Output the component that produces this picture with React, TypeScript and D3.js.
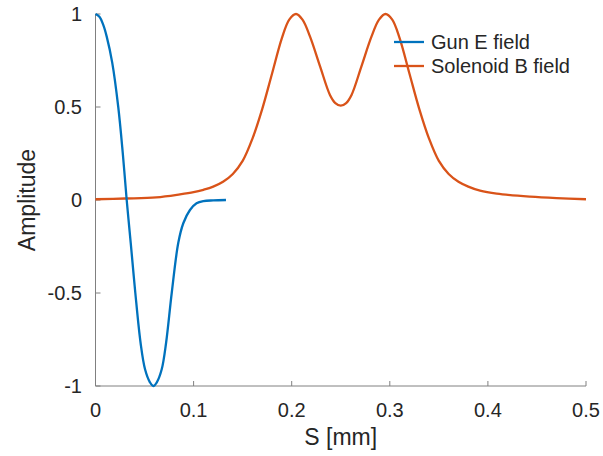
import React from "react";
import * as d3 from "d3";

// Gun E field (S [mm], amplitude)
const gunS = [0, 0.004, 0.008, 0.0115, 0.017, 0.0232, 0.0278, 0.0318, 0.0359, 0.0406, 0.046, 0.0505, 0.0555, 0.0589, 0.0625, 0.0675, 0.0719, 0.0777, 0.0844, 0.0895, 0.0963, 0.103, 0.11, 0.12, 0.133];
const gunE = [1, 0.985, 0.94, 0.877, 0.74, 0.5, 0.252, 0, -0.23, -0.5, -0.77, -0.91, -0.98, -1, -0.98, -0.91, -0.77, -0.5, -0.23, -0.125, -0.054, -0.018, -0.006, -0.002, 0];

// Solenoid B field
const solS = [0, 0.03, 0.062, 0.086, 0.1, 0.11, 0.12, 0.13, 0.14, 0.15, 0.16, 0.17, 0.18, 0.19, 0.1975, 0.2044, 0.211, 0.2187, 0.229, 0.239, 0.2445, 0.25, 0.2555, 0.261, 0.271, 0.2813, 0.289, 0.2956, 0.3025, 0.31, 0.32, 0.33, 0.34, 0.35, 0.36, 0.37, 0.38, 0.392, 0.409, 0.443, 0.47, 0.5];
const solB = [0.004, 0.008, 0.014, 0.03, 0.042, 0.055, 0.072, 0.098, 0.14, 0.21, 0.33, 0.49, 0.68, 0.87, 0.97, 1, 0.97, 0.878, 0.717, 0.565, 0.521, 0.507, 0.521, 0.565, 0.717, 0.878, 0.97, 1, 0.97, 0.87, 0.68, 0.49, 0.33, 0.21, 0.14, 0.098, 0.072, 0.05, 0.034, 0.018, 0.01, 0.004];

const xTicks = [0, 0.1, 0.2, 0.3, 0.4, 0.5];
const yTicks = [-1, -0.5, 0, 0.5, 1];
const seriesNames = ["Gun E field", "Solenoid B field"];
const colors = ["#0072BD", "#D95319"];

export default function App() {
  const W = 603, H = 456;
  const x = d3.scaleLinear().domain([0, 0.5]).range([95.5, 586]);
  const y = d3.scaleLinear().domain([-1, 1]).range([386, 14]);
  const line = d3.line<[number, number]>().x(d => x(d[0])).y(d => y(d[1])).curve(d3.curveCatmullRom.alpha(0.5));
  const gunPts = gunS.map((s, i) => [s, gunE[i]] as [number, number]);
  const solPts = solS.map((s, i) => [s, solB[i]] as [number, number]);
  const font = "'Liberation Sans', Arial, Helvetica, sans-serif";
  const axisColor = "#808080";
  const textColor = "#262626";
  return (
    <svg width={W} height={H} style={{ position: "absolute", left: 0, top: 0 }} fontFamily={font}>
      <rect width={W} height={H} fill="white" />
      {/* axes */}
      <line x1={x(0)} x2={x(0.5)} y1={386} y2={386} stroke={axisColor} strokeWidth={1} />
      <line x1={x(0)} x2={x(0)} y1={y(1)} y2={386} stroke={axisColor} strokeWidth={1} />
      {xTicks.map(t => (
        <g key={"x" + t}>
          <line x1={x(t)} x2={x(t)} y1={386} y2={381} stroke={axisColor} strokeWidth={1} />
          <text x={x(t)} y={417} textAnchor="middle" fontSize={20} fill={textColor}>{String(t)}</text>
        </g>
      ))}
      {yTicks.map(t => (
        <g key={"y" + t}>
          <line x1={x(0)} x2={x(0) + 5} y1={y(t)} y2={y(t)} stroke={axisColor} strokeWidth={1} />
          <text x={82} y={y(t) + 7} textAnchor="end" fontSize={20} fill={textColor}>{String(t)}</text>
        </g>
      ))}
      <text x={(x(0) + x(0.5)) / 2} y={445} textAnchor="middle" fontSize={23} fill={textColor}>S [mm]</text>
      <text transform={`translate(35,${y(0)}) rotate(-90)`} textAnchor="middle" fontSize={23} fill={textColor}>Amplitude</text>
      {/* curves */}
      <path d={line(solPts) || ""} fill="none" stroke={colors[1]} strokeWidth={2.3} />
      <path d={line(gunPts) || ""} fill="none" stroke={colors[0]} strokeWidth={2.3} />
      {/* legend */}
      {seriesNames.map((n, i) => (
        <g key={n}>
          <line x1={394} x2={424} y1={42 + i * 24} y2={42 + i * 24} stroke={colors[i]} strokeWidth={2.3} />
          <text x={431} y={42 + i * 24 + 7} fontSize={20} fill={textColor}>{n}</text>
        </g>
      ))}
    </svg>
  );
}
